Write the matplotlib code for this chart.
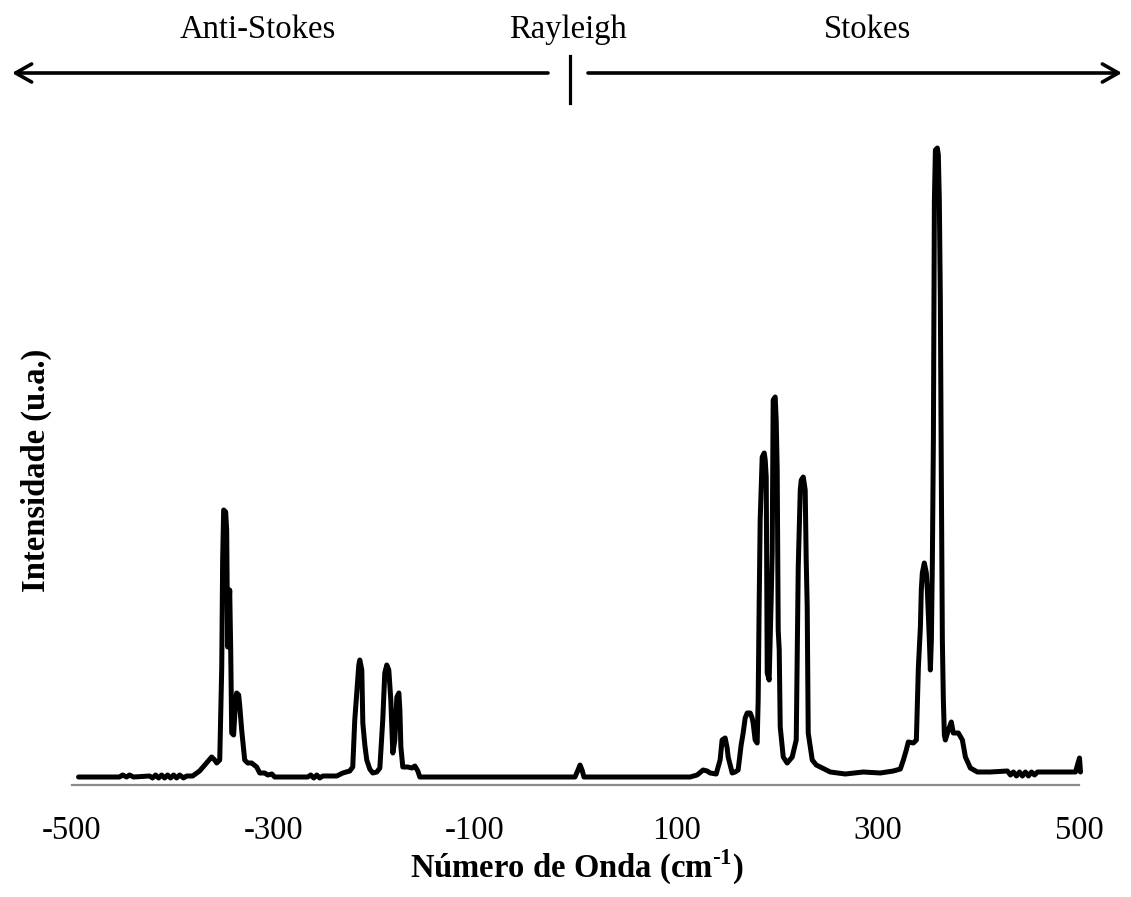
import matplotlib
matplotlib.use("Agg")
import matplotlib.pyplot as plt

# Raman spectrum (wavenumber in cm-1, intensity in a.u.)
anti_stokes_wn = [-493.5, -452.8, -449.8, -445.8, -442.9, -438.9, -423.0, -420.0, -417.0, -414.0,
                  -411.0, -408.1, -405.1, -402.1, -399.1, -396.1, -393.1, -389.2, -386.2, -380.2,
                  -373.3, -367.3, -361.3, -358.3, -356.3, -353.3, -351.3, -350.4, -349.4, -347.4,
                  -346.4, -345.4, -344.4, -343.4, -342.4, -341.4, -339.5, -337.5, -336.5, -334.5,
                  -333.5, -331.5, -328.5, -325.5, -321.6, -316.6, -313.6, -308.6, -305.6, -301.6,
                  -298.7, -265.9, -262.9, -259.9, -256.9, -254.0, -251.0, -237.1, -231.1, -224.2,
                  -221.2, -219.2, -217.2, -215.2, -214.2, -212.2, -211.2, -209.2, -207.3, -204.3,
                  -201.3, -197.3, -194.3, -191.4, -189.4, -187.4, -185.4, -183.4, -181.4, -179.4,
                  -177.4, -175.4, -174.4, -173.4, -171.5, -166.5, -162.5, -159.5, -156.6, -154.6]
anti_stokes_int = [8, 8, 10, 8, 10, 8, 9, 7, 10, 7,
                   10, 7, 10, 7, 10, 7, 10, 7, 9, 9,
                   14, 21, 28, 25, 22, 25, 118, 225, 275, 273,
                   255, 138, 165, 195, 135, 52, 50, 85, 92, 90,
                   80, 55, 25, 22, 22, 18, 12, 12, 10, 11,
                   8, 8, 10, 7, 10, 7, 9, 9, 12, 14,
                   18, 65, 92, 120, 125, 115, 62, 40, 25, 16,
                   12, 13, 17, 65, 112, 120, 115, 85, 32, 45,
                   88, 92, 75, 38, 18, 18, 17, 19, 14, 8]

rayleigh_wn = [-0.5, 2.5, 4.5, 6.5, 8.4]
rayleigh_int = [8, 15, 20, 15, 8]

stokes_wn = [113.8, 120.8, 126.7, 130.7, 133.7, 139.7, 143.6, 145.6, 148.6, 150.6,
             151.6, 155.6, 158.5, 161.5, 164.5, 166.5, 168.5, 170.5, 173.5, 175.4,
             176.4, 178.4, 180.4, 181.4, 182.4, 183.4, 185.4, 187.4, 188.4, 189.4,
             190.4, 192.3, 194.3, 195.3, 196.3, 198.3, 199.3, 200.3, 201.3, 202.3,
             203.3, 206.3, 210.2, 215.2, 219.2, 220.2, 221.2, 223.2, 224.2, 226.2,
             228.1, 229.1, 230.1, 231.1, 235.1, 239.1, 243.1, 253.0, 267.9, 285.8,
             302.7, 315.6, 322.6, 325.6, 328.5, 330.5, 335.5, 338.5, 340.5, 342.5,
             343.4, 344.4, 346.4, 348.4, 349.4, 351.4, 352.4, 353.4, 354.4, 355.4,
             356.4, 357.4, 359.3, 360.3, 361.3, 362.3, 363.3, 364.3, 365.3, 366.3,
             367.3, 370.3, 373.2, 375.2, 380.2, 384.2, 387.2, 392.1, 399.1, 412.0,
             428.9, 431.9, 434.9, 437.9, 440.9, 443.8, 446.8, 449.8, 452.8, 455.8,
             458.8, 496.5, 498.5, 500.5, 501.5]
stokes_int = [8, 10, 15, 14, 12, 11, 25, 45, 47, 37,
              28, 12, 13, 15, 40, 52, 67, 72, 72, 67,
              62, 45, 42, 85, 182, 265, 328, 332, 325, 308,
              112, 105, 185, 232, 385, 388, 365, 315, 155, 135,
              58, 28, 22, 28, 45, 135, 218, 295, 305, 308,
              295, 225, 178, 52, 25, 20, 18, 13, 11, 13,
              12, 14, 16, 25, 35, 43, 42, 45, 118, 158,
              195, 212, 222, 212, 195, 145, 115, 145, 225, 345,
              585, 635, 637, 630, 585, 485, 305, 145, 85, 50,
              45, 55, 63, 52, 52, 45, 28, 17, 13, 13,
              14, 10, 13, 9, 13, 9, 13, 9, 13, 10,
              13, 13, 20, 27, 13]

x_ticks = [-500, -300, -100, 100, 300, 500]
regions = ["Anti-Stokes", "Rayleigh", "Stokes"]

plt.rcParams['font.family'] = ['Liberation Serif', 'DejaVu Serif']
plt.rcParams['mathtext.fontset'] = 'custom'
plt.rcParams['mathtext.rm'] = 'Liberation Serif'
plt.rcParams['mathtext.bf'] = 'Liberation Serif:bold'

W, H = 1131, 897
fig = plt.figure(figsize=(W / 100, H / 100), dpi=100)
ax = fig.add_axes([72 / W, (H - 785) / H, (1079 - 72) / W, (785 - 140) / H])

wn = anti_stokes_wn + rayleigh_wn + stokes_wn
inten = anti_stokes_int + rayleigh_int + stokes_int
# gap between peaks is flat baseline
ax.plot(wn, inten, color='black', lw=3.6, solid_joinstyle='round',
        solid_capstyle='round', clip_on=False, zorder=3)

ax.set_xlim(-500, 500)
ax.set_ylim(0, 645)
ax.set_xticks(x_ticks)
ax.set_xticklabels([str(t) for t in x_ticks])
ax.set_yticks([])
ax.tick_params(axis='x', length=0, pad=22, labelsize=23.5)
for side in ['top', 'right', 'left']:
    ax.spines[side].set_visible(False)
ax.spines['bottom'].set_color('#8c8c8c')
ax.spines['bottom'].set_linewidth(1.6)

ax.set_xlabel('Número de Onda (cm$^{\\mathbf{\u2010}\\mathbf{1}}$)', fontsize=23.5,
              fontweight='bold', va='center')
ax.xaxis.set_label_coords((577 - 72) / 1007, (785 - 867) / 645)
ax.set_ylabel('Intensidade (u.a.)', fontsize=23.5, fontweight='bold', va='center')
ax.yaxis.set_label_coords((36 - 72) / 1007, (785 - 470) / 645)

# top annotation: arrows and region names
arrow_kw = dict(arrowstyle='->, head_length=1.15, head_width=0.65', lw=2.6,
                color='black', shrinkA=0, shrinkB=0)
ax.annotate('', xy=(12, H - 73), xytext=(548, H - 73), xycoords='figure pixels',
            textcoords='figure pixels', arrowprops=arrow_kw, annotation_clip=False)
ax.annotate('', xy=(1122, H - 73), xytext=(588, H - 73), xycoords='figure pixels',
            textcoords='figure pixels', arrowprops=arrow_kw, annotation_clip=False)
fig.add_artist(plt.Line2D([570 / W, 570 / W], [(H - 56) / H, (H - 103) / H],
                          color='black', lw=2.3))
for name, xc in zip(regions, [258, 568, 868]):
    fig.text(xc / W, (H - 38) / H, name, fontsize=23.5, ha='center', va='baseline')

fig.savefig('out.png', dpi=100)
